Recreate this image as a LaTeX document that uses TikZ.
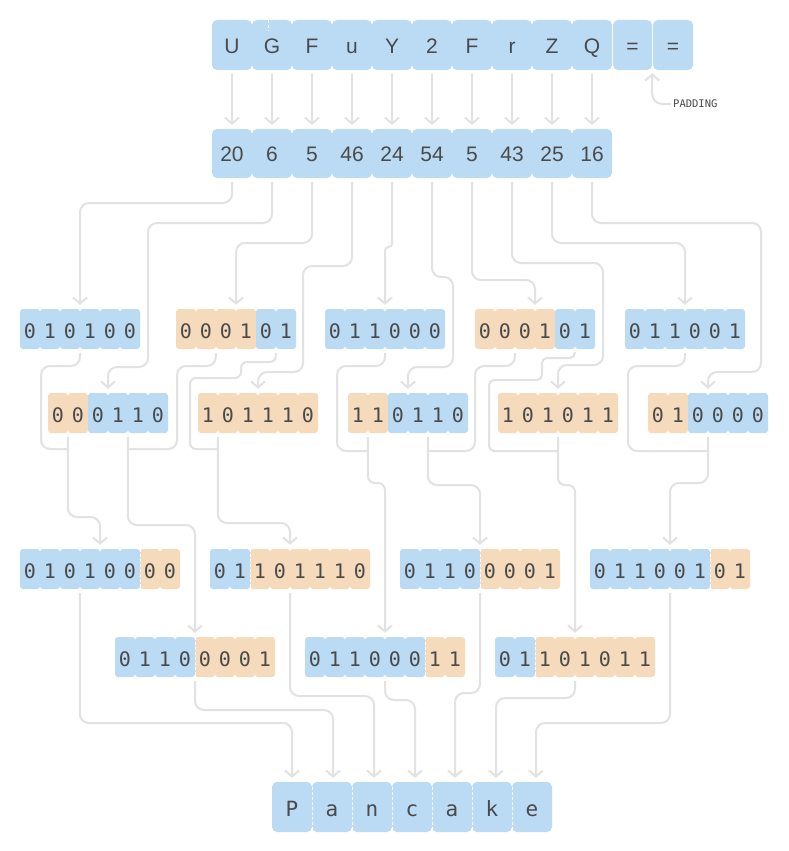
\documentclass[tikz,border=0pt]{standalone}
\usepackage{fontspec}
\setmainfont{Liberation Sans}
\newfontfamily\monofont{DejaVu Sans Mono}
\usetikzlibrary{arrows.meta}
\definecolor{cblue}{HTML}{BBDBF4}
\definecolor{corange}{HTML}{F5DBBC}
\definecolor{ctext}{HTML}{4A4A4A}
\definecolor{cline}{HTML}{E2E2E2}
\newcommand\bitrow[5]{%
  \node[grp, minimum width={#4*20pt}] (#1) at ({#2+#4*10},#3) {};
  \foreach \d/\c [count=\i from 0] in {#5} {
    \node[bitcell, fill=\c] (#1-\i) at ({#2+10+20*\i},#3) {\d};
  }
}
\begin{document}
\begin{tikzpicture}[x=1pt,y=-1pt,
  bigcell/.style={rectangle, rounded corners=5pt, minimum width=40pt, minimum height=50pt, inner sep=0pt, fill=cblue, text=ctext, text height=16pt, text depth=0pt, font=\fontsize{21}{21}\selectfont},
  bitcell/.style={rectangle, rounded corners=3pt, minimum width=20pt, minimum height=40pt, inner sep=0pt, text=ctext, text height=18pt, text depth=0pt, font=\monofont\fontsize{20}{20}\selectfont},
  grp/.style={rectangle, inner sep=0pt, minimum height=40pt},
  conn/.style={draw=cline, line width=2pt, rounded corners=9pt, -{Straight Barb[length=6pt,width=14pt]}, shorten >=4pt, shorten <=4pt},
  feed/.style={draw=cline, line width=2pt, rounded corners=9pt, shorten <=4pt},
  sep/.style={draw=white, line width=1pt, dash pattern=on 3pt off 2pt}
]
\fill[white] (0,0) rectangle (788,851);
\useasboundingbox (0,0) rectangle (788,851);

% row of characters
\foreach \t [count=\i from 0] in {U,G,F,u,Y,2,F,r,Z,Q}
  \node[bigcell] (a\i) at ({232+40*\i},45) {\t};
\node[bigcell, minimum width=39pt] (eq1) at (632.5,45) {=};
\node[bigcell] (eq2) at (673,45) {=};
\draw[white, line width=1.2pt] (612.5,20) -- (612.5,70);
\draw[sep] (268,20) -- (268,31);

% row of numbers
\foreach \t [count=\i from 0] in {20,6,5,46,24,54,5,43,25,16}
  \node[bigcell, minimum height=49pt] (b\i) at ({232+40*\i},153.5) {\t};

\foreach \i in {0,...,9}
  \draw[conn] (a\i.south) -- (b\i.north);

% padding label
\node[font=\monofont\fontsize{10.5}{10.5}\selectfont, text=ctext, anchor=west, inner sep=0pt] (pad) at (673,104) {PADDING};
\draw[conn, rounded corners=10pt, shorten <=2pt, shorten >=3pt] (pad.west) -| (eq1.south east);

% 6-bit groups
\bitrow{C1}{20}{329}{6}{0/cblue,1/cblue,0/cblue,1/cblue,0/cblue,0/cblue}
\bitrow{C2}{176}{329}{6}{0/corange,0/corange,0/corange,1/corange,0/cblue,1/cblue}
\bitrow{C3}{325}{329}{6}{0/cblue,1/cblue,1/cblue,0/cblue,0/cblue,0/cblue}
\bitrow{C4}{475}{329}{6}{0/corange,0/corange,0/corange,1/corange,0/cblue,1/cblue}
\bitrow{C5}{625}{329}{6}{0/cblue,1/cblue,1/cblue,0/cblue,0/cblue,1/cblue}
\bitrow{D1}{48}{413}{6}{0/corange,0/corange,0/cblue,1/cblue,1/cblue,0/cblue}
\bitrow{D2}{198}{413}{6}{1/corange,0/corange,1/corange,1/corange,1/corange,0/corange}
\bitrow{D3}{348}{413}{6}{1/corange,1/corange,0/cblue,1/cblue,1/cblue,0/cblue}
\bitrow{D4}{498}{413}{6}{1/corange,0/corange,1/corange,0/corange,1/corange,1/corange}
\bitrow{D5}{648}{413}{6}{0/corange,1/corange,0/cblue,0/cblue,0/cblue,0/cblue}

% 8-bit bytes
\bitrow{E1}{20}{569}{8}{0/cblue,1/cblue,0/cblue,1/cblue,0/cblue,0/cblue,0/corange,0/corange}
\bitrow{E2}{210}{569}{8}{0/cblue,1/cblue,1/corange,0/corange,1/corange,1/corange,1/corange,0/corange}
\bitrow{E3}{400}{569}{8}{0/cblue,1/cblue,1/cblue,0/cblue,0/corange,0/corange,0/corange,1/corange}
\bitrow{E4}{590}{569}{8}{0/cblue,1/cblue,1/cblue,0/cblue,0/cblue,1/cblue,0/corange,1/corange}
\bitrow{F1}{115}{657}{8}{0/cblue,1/cblue,1/cblue,0/cblue,0/corange,0/corange,0/corange,1/corange}
\bitrow{F2}{305}{657}{8}{0/cblue,1/cblue,1/cblue,0/cblue,0/cblue,0/cblue,1/corange,1/corange}
\bitrow{F3}{495}{657}{8}{0/cblue,1/cblue,1/corange,0/corange,1/corange,0/corange,1/corange,1/corange}
\draw[sep] (E1-5.north east) -- (E1-5.south east);
\draw[sep] (E2-1.north east) -- (E2-1.south east);
\draw[sep] (E3-3.north east) -- (E3-3.south east);
\draw[sep] (E4-5.north east) -- (E4-5.south east);
\draw[sep] (F1-3.north east) -- (F1-3.south east);
\draw[sep] (F2-5.north east) -- (F2-5.south east);
\draw[sep] (F3-1.north east) -- (F3-1.south east);

% result
\foreach \t [count=\i from 0] in {P,a,n,c,a,k,e}
  \node[bigcell, text height=18pt, font=\monofont\fontsize{21}{21}\selectfont] (g\i) at ({292+40*\i},807) {\t};
\foreach \i in {0,...,5}
  \draw[sep] (g\i.north east) -- (g\i.south east);

% numbers -> 6-bit groups
\draw[conn] (b0.south) |- (80,203) -- (C1.north);
\draw[conn] (b1.south) |- (148,223) -- (148,367) -| (D1.north);
\draw[conn] (b2.south) |- (236,243) -- (C2.north);
\draw[conn] (b3.south) |- (303,266) -- (303,372) -| (D2.north);
\draw[conn, rounded corners=3.5pt] (b4.south) |- (385,247) -- (C3.north);
\draw[conn] (b5.south) |- (453,277) -- (453,367) -| (D3.north);
\draw[conn] (b6.south) |- (535,280) -- (C4.north);
\draw[conn] (b7.south) |- (603,263) -- (603,365) -| (D4.north);
\draw[conn] (b8.south) |- (685,243) -- (C5.north);
\draw[conn] (b9.south) |- (761,223) -- (761,372) -| (D5.north);

% 6-bit groups -> bytes
\draw[conn] ([xshift=20pt]D1.south west) |- (100,517) -- (E1.north);
\draw[feed] (C1.south) |- (41,366) -- (41,449) -- (68,449);
\draw[conn] ([xshift=80pt]D1.south west) |- (195,525) -- (F1.north);
\draw[feed] ([xshift=40pt]C2.south west) |- (177,366) -- (177,449) -- (128,449);
\draw[conn] ([xshift=20pt]D2.south west) |- (290,523) -- (E2.north);
\draw[feed, rounded corners=6pt] ([xshift=100pt]C2.south west) |- (241,362) -- (241,378) -- (190,378) -- (190,449) -- (218,449);
\draw[conn, rounded corners=7pt] ([xshift=20pt]D3.south west) |- (385,483) -- (F2.north);
\draw[feed] (C3.south) |- (337,366) -- (337,451) -- (368,451);
\draw[conn] ([xshift=80pt]D3.south west) |- (480,485) -- (E3.north);
\draw[feed] ([xshift=40pt]C4.south west) |- (475,366) -- (475,451) -- (428,451);
\draw[conn, rounded corners=7pt] (D4.south) |- (575,485) -- (F3.north);
\draw[feed, rounded corners=5pt, shorten <=3pt] ([xshift=100pt]C4.south west) |- (542,358) -- (542,380) -- (489,380) -- (489,451) -- (558,451);
\draw[conn] (D5.south) |- (670,483) -- (E4.north);
\draw[feed] (C5.south) |- (628,366) -- (628,451) -- (708,451);

% bytes -> letters
\draw[conn] ([xshift=60pt]E1.south west) |- (292,723) -- (g0.north);
\draw[conn] (F1.south) |- (333,710) -- ([xshift=1pt]g1.north);
\draw[conn] (E2.south) |- (374,696) -- ([xshift=2pt]g2.north);
\draw[conn] (F2.south) |- (415,700) -- ([xshift=3pt]g3.north);
\draw[conn] (E3.south) |- (455,693) -- ([xshift=3pt]g4.north);
\draw[conn] (F3.south) |- (496,698) -- ([xshift=4pt]g5.north);
\draw[conn] (E4.south) |- (536,723) -- ([xshift=4pt]g6.north);
\end{tikzpicture}
\end{document}
